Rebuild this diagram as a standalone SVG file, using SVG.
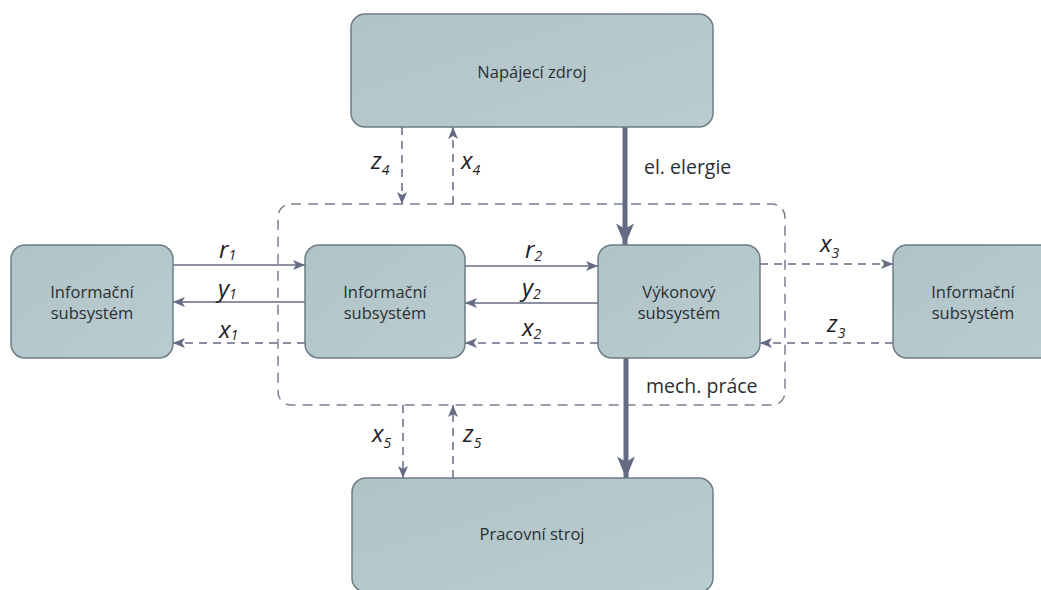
<svg xmlns="http://www.w3.org/2000/svg" width="1041" height="590" viewBox="0 0 1041 590">
<defs>
<linearGradient id="g" x1="0" y1="0" x2="1" y2="1">
<stop offset="0" stop-color="#b0c4c8"/>
<stop offset="1" stop-color="#b9cccf"/>
</linearGradient>
<marker id="a" viewBox="0 0 12 10" refX="12" refY="5" markerWidth="12" markerHeight="10" markerUnits="userSpaceOnUse" orient="auto">
<path d="M0,0 L12,5 L0,10 L3,5 z" fill="#666b85"/>
</marker>
<marker id="ab" viewBox="0 0 12 10" refX="12" refY="5" markerWidth="22" markerHeight="18" markerUnits="userSpaceOnUse" orient="auto">
<path d="M0,0 L12,5 L0,10 L3,5 z" fill="#666b85"/>
</marker>
</defs>
<style>
.box{fill:url(#g);stroke:#6d7c86;stroke-width:1.5}
.t{font-family:"Open Sans","Noto Sans",sans-serif;font-size:16.5px;fill:#2b2f33;text-anchor:middle}
.l{font-family:"Open Sans","Noto Sans",sans-serif;font-size:24px;font-style:italic;fill:#1e2024}
.s{font-size:14px}
.c{stroke:#666b85;stroke-width:1.5;fill:none}
.d{stroke-dasharray:8,6}
.th{stroke:#666b85;stroke-width:5;fill:none}
.lt{font-family:"Open Sans","Noto Sans",sans-serif;font-size:19.5px;fill:#2b2f33}
</style>
<rect width="1041" height="590" fill="#ffffff"/>
<rect x="278" y="204" width="507" height="201" rx="13" fill="none" stroke="#7a7f92" stroke-width="1.5" stroke-dasharray="10,7"/>
<g id="connectors">
<line class="c" x1="173" y1="265" x2="305" y2="265" marker-end="url(#a)"/>
<line class="c" x1="305" y1="302" x2="173" y2="302" marker-end="url(#a)"/>
<line class="c d" x1="305" y1="343" x2="173" y2="343" marker-end="url(#a)"/>
<line class="c" x1="465" y1="266" x2="598" y2="266" marker-end="url(#a)"/>
<line class="c" x1="598" y1="303" x2="465" y2="303" marker-end="url(#a)"/>
<line class="c d" x1="598" y1="343" x2="465" y2="343" marker-end="url(#a)"/>
<line class="c d" x1="760" y1="264" x2="893" y2="264" marker-end="url(#a)"/>
<line class="c d" x1="893" y1="343" x2="760" y2="343" marker-end="url(#a)"/>
<line class="c d" x1="402" y1="127" x2="402" y2="204" marker-end="url(#a)"/>
<line class="c d" x1="453" y1="204" x2="453" y2="127" marker-end="url(#a)"/>
<line class="c d" x1="403" y1="405" x2="403" y2="478" marker-end="url(#a)"/>
<line class="c d" x1="453" y1="478" x2="453" y2="405" marker-end="url(#a)"/>
<line class="th" x1="625" y1="127" x2="625" y2="245" marker-end="url(#ab)"/>
<line class="th" x1="626" y1="358" x2="626" y2="478" marker-end="url(#ab)"/>
<text class="l" x="219" y="258">r<tspan class="s" dy="2">1</tspan></text>
<text class="l" x="218" y="297">y<tspan class="s" dy="2">1</tspan></text>
<text class="l" x="219" y="338">x<tspan class="s" dy="2">1</tspan></text>
<text class="l" x="525" y="258">r<tspan class="s" dy="3">2</tspan></text>
<text class="l" x="522" y="296">y<tspan class="s" dy="3">2</tspan></text>
<text class="l" x="522" y="336">x<tspan class="s" dy="3">2</tspan></text>
<text class="l" x="820" y="252">x<tspan class="s" dy="6">3</tspan></text>
<text class="l" x="827" y="332">z<tspan class="s" dy="6">3</tspan></text>
<text class="l" x="371" y="169">z<tspan class="s" dy="6">4</tspan></text>
<text class="l" x="461" y="169">x<tspan class="s" dy="6">4</tspan></text>
<text class="l" x="372" y="442">x<tspan class="s" dy="6">5</tspan></text>
<text class="l" x="463" y="442">z<tspan class="s" dy="6">5</tspan></text>
<text class="lt" x="644" y="174">el. elergie</text>
<text class="lt" x="646" y="393">mech. práce</text>
</g>
<g id="napajeci"><rect class="box" x="351" y="14" width="362" height="113" rx="14"/><text class="t" x="532" y="78">Napájecí zdroj</text></g>
<g id="info-left"><rect class="box" x="11" y="245" width="162" height="113" rx="14"/><text class="t" x="92" y="298">Informační</text><text class="t" x="92" y="319">subsystém</text></g>
<g id="info-mid"><rect class="box" x="305" y="245" width="160" height="113" rx="14"/><text class="t" x="385" y="298">Informační</text><text class="t" x="385" y="319">subsystém</text></g>
<g id="vykonovy"><rect class="box" x="598" y="245" width="162" height="113" rx="14"/><text class="t" x="679" y="298">Výkonový</text><text class="t" x="679" y="319">subsystém</text></g>
<g id="info-right"><rect class="box" x="893" y="245" width="162" height="113" rx="14"/><text class="t" x="973" y="298">Informační</text><text class="t" x="973" y="319">subsystém</text></g>
<g id="pracovni"><rect class="box" x="352" y="478" width="361" height="114" rx="14"/><text class="t" x="532" y="540">Pracovní stroj</text></g>
</svg>
